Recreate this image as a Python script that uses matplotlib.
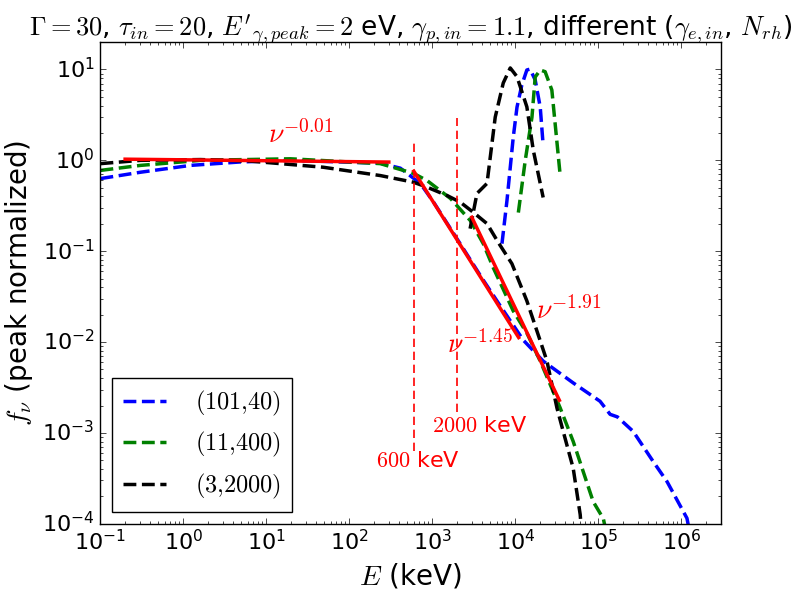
import numpy as np
import matplotlib
matplotlib.use("Agg")
import matplotlib.pyplot as plt

plt.style.use('classic')
plt.rcParams['figure.facecolor'] = 'white'
plt.rcParams['savefig.facecolor'] = 'white'
plt.rcParams['mathtext.fontset'] = 'cm'
plt.rcParams['font.family'] = ['DejaVu Sans']
plt.rcParams['lines.scale_dashes'] = True
plt.rcParams['lines.dashed_pattern'] = [3.7, 1.6]

# ---- data ----
blue_E = [0.101, 0.307, 1.23, 4.9, 19.6, 237, 413, 719, 1031, 2180, 4120, 6600,
          12500, 21700, 49900, 1.05e5, 1.39e5, 1.7e5, 2.63e5, 4.58e5, 6.75e5, 1.17e6, 1.3e6]
blue_f = [0.63, 0.74, 0.88, 0.96, 1.0, 0.93, 0.82, 0.557, 0.35, 0.12, 0.048, 0.025,
          0.0105, 0.00617, 0.00355, 0.00223, 0.0016, 0.0015, 0.00104, 4.85e-4, 2.9e-4, 1.15e-4, 7e-5]
blue_pk_E = [6920, 7950, 9460, 10500, 12000, 13800, 15100, 17400, 20000, 21700]
blue_pk_f = [0.121, 0.361, 1.79, 3.85, 6.74, 9.87, 10.1, 7.66, 3.85, 1.46]

green_E = [0.101, 0.307, 1.62, 19.6, 237, 592, 865, 1660, 2880, 4120, 5440, 9460,
           13960, 20000, 34800, 49900, 86900, 1.15e5, 1.25e5]
green_f = [0.775, 0.88, 1.0, 1.04, 0.92, 0.72, 0.60, 0.38, 0.217, 0.121, 0.0657, 0.022,
           0.0123, 0.00617, 0.00188, 8.05e-4, 1.75e-4, 1.14e-4, 8e-5]
green_pk_E = [10900, 13200, 15900, 17400, 20000, 22900, 27600, 34800]
green_pk_f = [0.266, 1.0, 2.99, 8.26, 9.87, 9.46, 5.94, 0.68]

black_E = [0.101, 0.307, 1.62, 6.47, 48.5, 237, 592, 865, 1510, 2180, 3120, 4570, 6240,
           9120, 13800, 20000, 24100, 31800, 37800, 49900, 60600, 63000]
black_f = [0.92, 1.0, 1.02, 0.98, 0.84, 0.68, 0.575, 0.507, 0.41, 0.346, 0.268, 0.201, 0.125,
           0.0728, 0.0284, 0.0103, 0.00617, 0.00188, 0.00104, 4.08e-4, 1.26e-4, 8e-5]
black_pk_E = [2860, 3460, 4570, 5740, 7170, 8710, 10500, 13800, 16500, 21700]
black_pk_f = [0.177, 0.432, 0.557, 2.99, 7.1, 10.4, 8.33, 3.88, 1.29, 0.39]

labels = [r'$(101{,}40)$', r'$(11{,}400)$', r'$(3{,}2000)$']
colors = ['b', 'g', 'k']

# power-law fits: index, energy range, value at start of range, label position
fit_idx = [-0.01, -1.45, -1.91]
fit_range = [(0.2, 300), (600, 1.1e4), (3000, 3.4e4)]
fit_start_f = [1.03, 0.76, 0.236]
fit_label_pos = [(10.5, 1.94), (1500, 0.0093), (1.77e4, 0.022)]

vline_E = [600, 2000]
vline_y = [(6.3e-4, 1.66), (1.7e-3, 2.9)]
vline_text = [r'$600$ keV', r'$2000$ keV']
vline_text_pos = [(210, 4.9e-4), (1000, 1.2e-3)]

fig = plt.figure(figsize=(8.01, 6.02), dpi=100)
ax = fig.add_subplot(111)
fig.subplots_adjust(left=0.125, right=0.9, bottom=0.13, top=0.93)

curves = [(blue_E, blue_f, blue_pk_E, blue_pk_f),
          (green_E, green_f, green_pk_E, green_pk_f),
          (black_E, black_f, black_pk_E, black_pk_f)]
for (E, f, pE, pf), c, lab in zip(curves, colors, labels):
    ax.plot(E, f, '--', color=c, lw=2.5, label=lab)
    ax.plot(pE, pf, '--', color=c, lw=2.5)

for idx, (e0, e1), f0, (tx, ty) in zip(fit_idx, fit_range, fit_start_f, fit_label_pos):
    ee = np.array([e0, e1])
    ff = f0 * (ee / e0) ** idx
    ax.plot(ee, ff, '-', color='r', lw=2.5)
    ax.text(tx, ty, r'$\nu^{%s}$' % ('%.2f' % idx), color='r', fontsize=20,
            ha='left', va='center')

for x, (y0, y1), t, (tx, ty) in zip(vline_E, vline_y, vline_text, vline_text_pos):
    ax.plot([x, x], [y0, y1], color='r', lw=1.2, dashes=(5, 2.8))
    ax.text(tx, ty, t, color='r', fontsize=16, ha='left', va='center')

ax.set_xscale('log')
ax.set_yscale('log')
ax.set_xlim(0.1, 3e6)
ax.set_ylim(1e-4, 20)
ax.tick_params(labelsize=16)
ax.set_xlabel(r'$E$ (keV)', fontsize=20)
ax.set_ylabel(r'$f_{\nu}$ (peak normalized)', fontsize=20)
ax.set_title(r"$\Gamma=30$, $\tau_{in}=20$, $E'_{\gamma,peak}=2$ eV, $\gamma_{p,in}=1.1$, "
             r"different ($\gamma_{e,in}$, $N_{rh}$)", fontsize=19)
leg = ax.legend(loc='lower left', fontsize=17.5, handlelength=1.75, handletextpad=1.2,
                borderpad=0.45, labelspacing=0.5, borderaxespad=0.5, numpoints=1)
leg.get_frame().set_linewidth(1.0)

fig.savefig('out.png', dpi=100)
